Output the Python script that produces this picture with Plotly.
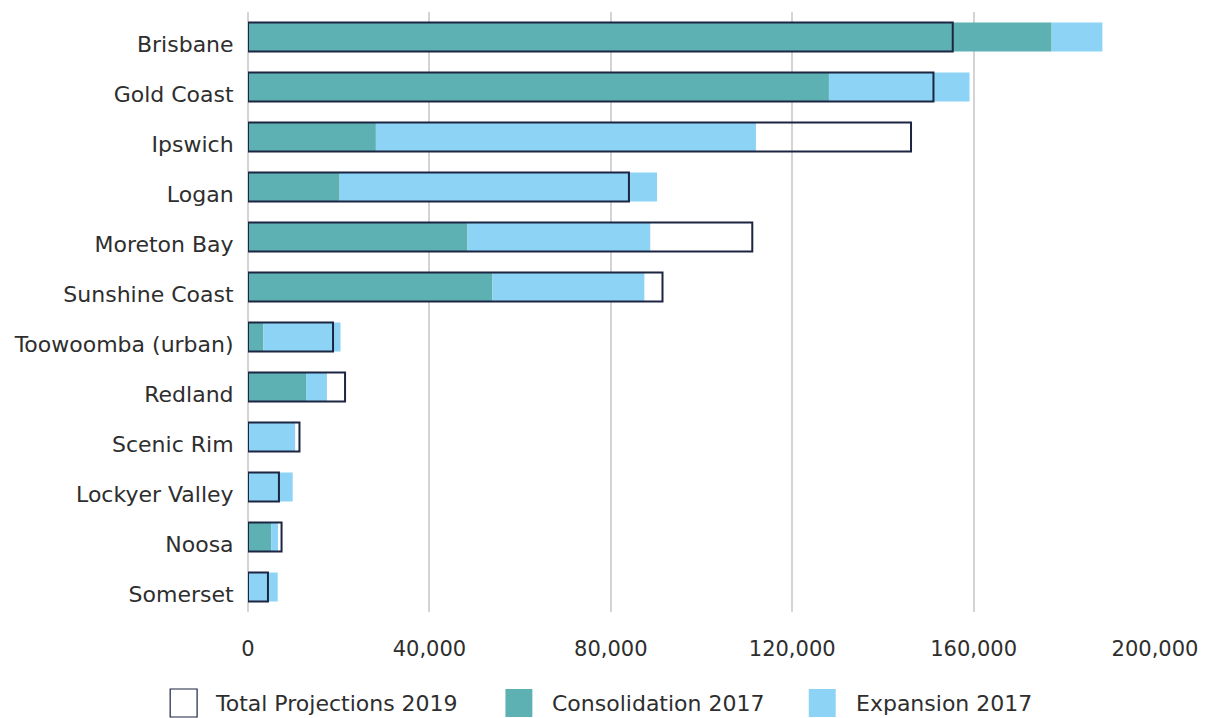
import plotly.graph_objects as go

regions = ["Brisbane", "Gold Coast", "Ipswich", "Logan", "Moreton Bay", "Sunshine Coast",
           "Toowoomba (urban)", "Redland", "Scenic Rim", "Lockyer Valley", "Noosa", "Somerset"]
consolidation_2017 = [177200, 128100, 28200, 20200, 48400, 53900, 3400, 12800, 0, 0, 5100, 0]
expansion_2017 = [11200, 31000, 83800, 70000, 40300, 33500, 17000, 4600, 10400, 9850, 1500, 6550]
total_2019 = [155400, 151150, 146200, 84000, 111200, 91400, 18750, 21400, 11350, 6820, 7400, 4400]
x_ticks = [0, 40000, 80000, 120000, 160000, 200000]

TEAL = "#5DB1B3"
BLUE = "#8CD3F5"
NAVY = "#1C2541"
TXT = "#2e2e2e"
FONT = "DejaVu Sans"

fig = go.Figure()
fig.add_trace(go.Bar(y=regions, x=consolidation_2017, orientation="h", marker_color=TEAL,
                     marker_line_width=0, width=0.58, name="Consolidation 2017"))
fig.add_trace(go.Bar(y=regions, x=expansion_2017, base=consolidation_2017, orientation="h",
                     marker_color=BLUE, marker_line_width=0, width=0.58, name="Expansion 2017"))
fig.add_trace(go.Bar(y=regions, x=total_2019, orientation="h",
                     marker=dict(color="rgba(0,0,0,0)", line=dict(color=NAVY, width=2)),
                     width=0.58, name="Total Projections 2019"))

fig.update_layout(
    barmode="overlay",
    width=1210, height=718,
    margin=dict(l=248, r=53, t=12, b=106),
    plot_bgcolor="white", paper_bgcolor="white",
    showlegend=False,
    font=dict(family=FONT, size=21, color=TXT),
)
fig.update_xaxes(range=[0, 200000], tickvals=x_ticks, tickformat=",",
                 showgrid=True, gridcolor="#d4d4d4", gridwidth=2,
                 zeroline=True, zerolinecolor="#d4d4d4", zerolinewidth=2,
                 ticks="outside", ticklen=18, tickcolor="rgba(0,0,0,0)",
                 tickfont=dict(size=21, color=TXT, family=FONT), showline=False)
fig.update_yaxes(autorange="reversed", categoryorder="array", categoryarray=regions,
                 ticks="outside", ticklen=9, tickcolor="rgba(0,0,0,0)",
                 ticklabelshift=-7,
                 tickfont=dict(size=22, color=TXT, family=FONT), showgrid=False, showline=False)

# manual legend
def px(x):
    return (x - 248) / 909.0

def py(y):
    return (612 - y) / 600.0

legend_items = [
    ("Total Projections 2019", "white", NAVY, 170, 213),
    ("Consolidation 2017", TEAL, TEAL, 506, 551),
    ("Expansion 2017", BLUE, BLUE, 810, 855),
]
for label, fill, line, bx, tx in legend_items:
    fig.add_shape(type="rect", xref="paper", yref="paper",
                  x0=px(bx), x1=px(bx + 27), y0=py(717), y1=py(689),
                  fillcolor=fill, line=dict(color=line, width=1.2 if fill == "white" else 0))
    fig.add_annotation(xref="paper", yref="paper", x=px(tx), y=py(703), text=label,
                       showarrow=False, xanchor="left", yanchor="middle",
                       font=dict(family=FONT, size=22, color=TXT))

fig.write_html("out.html", config={"displayModeBar": False},
               post_script="document.body.style.margin='0';")
